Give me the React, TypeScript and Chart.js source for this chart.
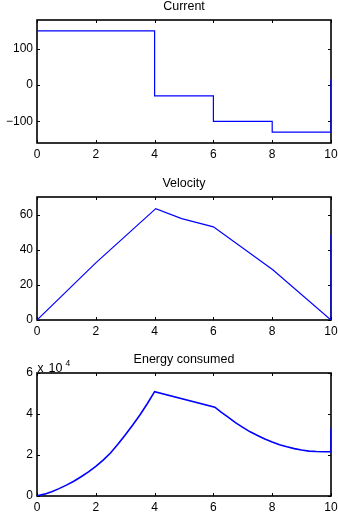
import React, { useEffect, useRef } from "react";
import { Chart, registerables } from "chart.js";

Chart.register(...registerables);

const FONT = "'Liberation Sans', Arial, Helvetica, sans-serif";

// ---- shared x axis ----
const xTicks = [0, 2, 4, 6, 8, 10];

// ---- Current ----
const currentTitle = "Current";
const currentT = [0, 4, 4, 6, 6, 8, 8, 10, 10];
const currentValues = [150, 150, -30, -30, -100, -100, -130, -130, 17];
const currentYTicks = [-100, 0, 100];
const currentYRange = [-160, 180];

// ---- Velocity ----
const velocityTitle = "Velocity";
const velocityT = [0, 2, 4.04, 4.92, 6, 8.02, 10, 10];
const velocityValues = [0, 32.5, 63.4, 57.7, 53, 28.6, 0, 48.6];
const velocityYTicks = [0, 20, 40, 60];
const velocityYRange = [0, 70];

// ---- Energy consumed ----
const energyTitle = "Energy consumed";
const energyT = [
  0, 0.25, 0.5, 0.75, 1, 1.25, 1.5, 1.75, 2, 2.25, 2.5, 2.75, 3, 3.25, 3.5, 3.75, 4,
  6.05, 6.25, 6.5, 6.75, 7, 7.25, 7.5, 7.75, 8, 8.25, 8.5, 8.75, 9, 9.25, 9.5, 9.75, 10, 10,
];
const energyValues = [
  100, 900, 2100, 3600, 5300, 7200, 9400, 11800, 14400, 17500, 21000, 25200, 29800, 34500,
  39500, 45000, 50900,
  43300, 41000, 38500, 35800, 33500, 31300, 29500, 27800, 26300, 25000, 24000, 23100,
  22400, 21900, 21700, 21600, 21600, 33000,
];
const energyYTicks = [0, 20000, 40000, 60000];
const energyYRange = [0, 60000];
const energyExponent = "4";

const fmtSigned = (v: number) => (v < 0 ? "\u2212" + Math.abs(v) : String(v));

const framePlugin = {
  id: "frame",
  beforeDatasetsDraw(chart: any) {
    const { ctx, chartArea: a, scales } = chart;
    ctx.save();
    ctx.strokeStyle = "#000";
    ctx.lineWidth = 1;
    const L = 3;
    ctx.beginPath();
    for (const tk of scales.x.ticks) {
      const px = Math.round(scales.x.getPixelForValue(tk.value)) + 0.5;
      ctx.moveTo(px, a.bottom);
      ctx.lineTo(px, a.bottom - L);
      ctx.moveTo(px, a.top);
      ctx.lineTo(px, a.top + L);
    }
    for (const tk of scales.y.ticks) {
      const py = Math.round(scales.y.getPixelForValue(tk.value)) + 0.5;
      ctx.moveTo(a.left, py);
      ctx.lineTo(a.left + L, py);
      ctx.moveTo(a.right, py);
      ctx.lineTo(a.right - L, py);
    }
    ctx.stroke();
    ctx.lineWidth = 1.6;
    ctx.strokeRect(a.left, a.top, a.right - a.left, a.bottom - a.top);
    ctx.restore();
  },
  afterDraw(chart: any, _args: any, opts: any) {
    const { ctx, chartArea: a } = chart;
    ctx.save();
    ctx.fillStyle = "#000";
    ctx.textBaseline = "alphabetic";
    ctx.textAlign = "center";
    ctx.font = `12.5px ${FONT}`;
    ctx.fillText(opts.title, (a.left + a.right) / 2, a.top - 10);
    if (opts.exponent) {
      ctx.textAlign = "left";
      ctx.font = `12px ${FONT}`;
      ctx.fillText("x", a.left + 0.5, a.top - 1);
      ctx.font = `12.5px ${FONT}`;
      ctx.fillText("10", a.left + 11.5, a.top - 1);
      ctx.font = `8.5px ${FONT}`;
      ctx.fillText(opts.exponent, a.left + 28.5, a.top - 7);
    }
    ctx.restore();
  },
};

type PanelProps = {
  title: string;
  t: number[];
  values: number[];
  yTicks: number[];
  yRange: number[];
  fmt: (v: number) => string;
  exponent?: string;
  lineWidth: number;
  top: number;
  height: number;
  padTop: number;
};

function Panel(p: PanelProps) {
  const ref = useRef<HTMLCanvasElement | null>(null);
  useEffect(() => {
    if (!ref.current) return;
    const data = p.t.map((x, i) => ({ x, y: p.values[i] }));
    const chart = new Chart(ref.current, {
      type: "line",
      data: {
        datasets: [
          {
            data,
            borderColor: "#0000ff",
            borderWidth: p.lineWidth,
            pointRadius: 0,
            tension: 0,
            fill: false,
          },
        ],
      },
      options: {
        animation: false,
        responsive: false,
        devicePixelRatio: 1,
        events: [],
        layout: { padding: { top: p.padTop, right: 7, left: 0, bottom: 0 } },
        plugins: {
          legend: { display: false },
          tooltip: { enabled: false },
          title: { display: false },
          frame: { title: p.title, exponent: p.exponent },
        } as any,
        scales: {
          x: {
            type: "linear",
            position: "bottom",
            min: 0,
            max: 10,
            afterBuildTicks: (s: any) => {
              s.ticks = xTicks.map((value) => ({ value }));
            },
            afterFit: (s: any) => {
              s.height = 22;
              s.paddingLeft = 0;
              s.paddingRight = 0;
            },
            grid: { display: false, drawTicks: false },
            border: { display: false },
            ticks: {
              color: "#000",
              font: { family: FONT, size: 12 },
              padding: 4,
              maxRotation: 0,
              autoSkip: false,
              callback: (v: any) => String(v),
            },
          },
          y: {
            type: "linear",
            position: "left",
            min: p.yRange[0],
            max: p.yRange[1],
            afterBuildTicks: (s: any) => {
              s.ticks = p.yTicks.map((value) => ({ value }));
            },
            afterFit: (s: any) => {
              s.width = 37;
              s.paddingTop = 0;
              s.paddingBottom = 0;
            },
            grid: { display: false, drawTicks: false },
            border: { display: false },
            ticks: {
              color: "#000",
              font: { family: FONT, size: 12 },
              padding: 4,
              autoSkip: false,
              callback: (v: any) => p.fmt(Number(v)),
            },
          },
        },
      },
      plugins: [framePlugin as any],
    });
    return () => chart.destroy();
  }, []);
  return (
    <canvas
      ref={ref}
      width={338}
      height={p.height}
      style={{ position: "absolute", left: 0, top: p.top, width: 338, height: p.height }}
    />
  );
}

export default function App() {
  return (
    <div style={{ position: "absolute", left: 0, top: 0, width: 338, height: 518, background: "#fff" }}>
      <Panel
        title={currentTitle}
        t={currentT}
        values={currentValues}
        yTicks={currentYTicks}
        yRange={currentYRange}
        fmt={fmtSigned}
        lineWidth={1.2}
        top={0}
        height={165}
        padTop={20}
      />
      <Panel
        title={velocityTitle}
        t={velocityT}
        values={velocityValues}
        yTicks={velocityYTicks}
        yRange={velocityYRange}
        fmt={fmtSigned}
        lineWidth={1.2}
        top={169}
        height={173}
        padTop={28}
      />
      <Panel
        title={energyTitle}
        t={energyT}
        values={energyValues}
        yTicks={energyYTicks}
        yRange={energyYRange}
        fmt={(v) => String(v / 10000)}
        exponent={energyExponent}
        lineWidth={1.6}
        top={345}
        height={173}
        padTop={28}
      />
    </div>
  );
}
